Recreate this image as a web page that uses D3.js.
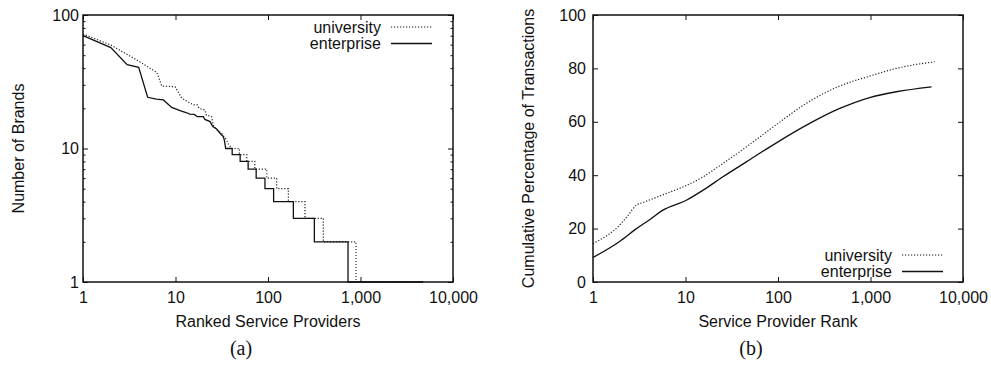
<!DOCTYPE html>
<html lang="en">
<head>
<meta charset="UTF-8">
<title>Service providers</title>
<script src="https://d3js.org/d3.v7.min.js"></script>
<style>
    body { margin: 0; background: #fff; }
    svg text { font-family: "Liberation Sans", Arial, sans-serif; fill: #111; }
    .axis path { display: none; }
    .axis line { stroke: #111; stroke-width: 1; }
    .axis text { font-size: 16px; }
</style>
</head>
<body>
<script>
// (a) ranked service providers vs number of brands
var uniRank   = [1, 2, 4.1, 6.3, 7.1, 9.9, 11.7, 15.6, 17.2, 18, 20.8, 21.5, 24.6, 25.6, 27.9, 31.6, 35.6, 37, 40.4, 49, 49, 59, 59, 72, 72, 97, 97, 124, 124, 166, 166, 251, 251, 396, 396, 894, 894, 4740];
var uniBrands = [72, 59.6, 44.7, 37, 29.4, 29, 23.8, 21.2, 21.2, 20, 19.4, 17.8, 17.3, 15, 13.8, 13, 11.6, 10.9, 10, 10, 9, 9, 8, 8, 7, 7, 6, 6, 5, 5, 4, 4, 3, 3, 2, 2, 1, 1];
var entRank   = [1, 2, 3, 4, 5, 6.2, 7.4, 9.1, 11.2, 13, 14.3, 16, 17.2, 20, 20.8, 23.6, 25.3, 27.9, 30.3, 32.8, 33.7, 34.9, 41, 41, 50, 50, 61, 61, 74.5, 74.5, 92.7, 92.7, 115, 115, 188, 188, 317, 317, 733, 733, 4740];
var entBrands = [70, 57, 42.5, 40.5, 24.2, 23.4, 23.1, 20.3, 19.2, 18.6, 18.1, 18, 17.3, 17.3, 16.5, 15.9, 14.6, 14, 13, 12.3, 11.6, 10, 10, 9, 9, 8, 8, 7, 7, 6, 6, 5, 5, 4, 4, 3, 3, 2, 2, 1, 1];

// (b) service provider rank vs cumulative percentage of transactions
var uniCumRank = [1, 2, 2.4, 2.9, 3.5, 5, 7.3, 10, 15.5, 25.4, 45.5, 100, 202, 465, 980, 1900, 4940];
var uniCumPct  = [14.4, 21.8, 25, 28.6, 29.8, 31.9, 34.1, 36, 39.4, 44.4, 50.6, 59.4, 66.9, 73.4, 77.1, 80, 82.5];
var entCumRank = [1, 1.94, 2.9, 4.2, 5.7, 10.2, 15.5, 25.4, 45.5, 100, 220, 465, 980, 1900, 4570];
var entCumPct  = [9.2, 15.2, 19.8, 23.6, 26.9, 30.6, 34.4, 39.4, 45, 52.5, 59.4, 65, 69.1, 71.25, 73.1];

var xTicks = [1, 10, 100, 1000, 10000];
var logYTicks = [1, 10, 100];
var logYMinor = [2, 3, 4, 5, 6, 7, 8, 9, 20, 30, 40, 50, 60, 70, 80, 90];
var linYTicks = [0, 20, 40, 60, 80, 100];
var seriesNames = ["university", "enterprise"];

var svg = d3.select("body").append("svg")
    .attr("width", 991)
    .attr("height", 365);

function zip(xs, ys) {
    return xs.map(function (d, i) { return [d, ys[i]]; });
}

function drawPanel(opt) {
    var x = d3.scaleLog().domain([1, 10000]).range([opt.left, opt.right]);
    var y = opt.y;
    var fmt = d3.format(",");

    // bottom + top x ticks (inward)
    svg.append("g").attr("class", "axis")
        .attr("transform", "translate(0," + opt.bottom + ")")
        .call(d3.axisBottom(x).tickValues(xTicks).tickFormat(fmt).tickSize(-5).tickPadding(10));
    svg.append("g").attr("class", "axis")
        .attr("transform", "translate(0," + opt.top + ")")
        .call(d3.axisTop(x).tickValues(xTicks).tickFormat("").tickSize(-5));

    // left + right y ticks
    svg.append("g").attr("class", "axis")
        .attr("transform", "translate(" + opt.left + ",0)")
        .call(d3.axisLeft(y).tickValues(opt.yTicks).tickFormat(opt.yFmt).tickSize(-5).tickPadding(opt.yPad));
    svg.append("g").attr("class", "axis")
        .attr("transform", "translate(" + opt.right + ",0)")
        .call(d3.axisRight(y).tickValues(opt.yTicks).tickFormat("").tickSize(-5));
    if (opt.yMinor) {
        svg.append("g").attr("class", "axis")
            .attr("transform", "translate(" + opt.left + ",0)")
            .call(d3.axisLeft(y).tickValues(opt.yMinor).tickFormat("").tickSize(-2.5));
        svg.append("g").attr("class", "axis")
            .attr("transform", "translate(" + opt.right + ",0)")
            .call(d3.axisRight(y).tickValues(opt.yMinor).tickFormat("").tickSize(-2.5));
    }

    var line = d3.line()
        .curve(opt.curve)
        .x(function (d) { return x(d[0]); })
        .y(function (d) { return y(d[1]); });

    svg.append("path")
        .datum(opt.uni)
        .attr("d", line)
        .attr("fill", "none")
        .attr("stroke", "#222")
        .attr("stroke-width", 1.2)
        .attr("stroke-dasharray", "1.2,1.8");
    svg.append("path")
        .datum(opt.ent)
        .attr("d", line)
        .attr("fill", "none")
        .attr("stroke", "#111")
        .attr("stroke-width", 1.3);

    // frame
    svg.append("rect")
        .attr("x", opt.left).attr("y", opt.top)
        .attr("width", opt.right - opt.left)
        .attr("height", opt.bottom - opt.top)
        .attr("fill", "none")
        .attr("stroke", "#111")
        .attr("stroke-width", 1.5);

    // legend
    seriesNames.forEach(function (name, i) {
        var ly = opt.legendY + i * 16.5;
        svg.append("text")
            .attr("x", opt.legendX)
            .attr("y", ly)
            .attr("dy", "0.35em")
            .attr("text-anchor", "end")
            .style("font-size", "16px")
            .text(name);
        svg.append("line")
            .attr("x1", opt.legendX + 10).attr("x2", opt.legendX + 51)
            .attr("y1", ly).attr("y2", ly)
            .attr("stroke", "#111")
            .attr("stroke-width", i == 0 ? 1.2 : 1.3)
            .attr("stroke-dasharray", i == 0 ? "1.2,1.8" : null);
    });

    // axis titles
    svg.append("text")
        .attr("x", (opt.left + opt.right) / 2)
        .attr("y", 327)
        .attr("text-anchor", "middle")
        .style("font-size", "16px")
        .text(opt.xTitle);
    svg.append("text")
        .attr("transform", "translate(" + opt.yTitleX + "," + ((opt.top + opt.bottom) / 2) + ") rotate(-90)")
        .attr("text-anchor", "middle")
        .attr("dy", "0.35em")
        .style("font-size", "16px")
        .text(opt.yTitle);
    svg.append("text")
        .attr("x", opt.capX)
        .attr("y", 355)
        .attr("text-anchor", "middle")
        .style("font-family", "'Liberation Serif', 'DejaVu Serif', serif")
        .style("font-size", "20px")
        .text(opt.caption);
}

drawPanel({
    left: 83, right: 453, top: 15, bottom: 282,
    y: d3.scaleLog().domain([1, 100]).range([282, 15]),
    yTicks: logYTicks, yMinor: logYMinor, yFmt: d3.format(","), yPad: 4,
    uni: zip(uniRank, uniBrands), ent: zip(entRank, entBrands),
    curve: d3.curveLinear,
    legendX: 381, legendY: 27,
    xTitle: "Ranked Service Providers", yTitle: "Number of Brands", yTitleX: 18,
    caption: "(a)", capX: 241
});

drawPanel({
    left: 593, right: 963, top: 15, bottom: 282,
    y: d3.scaleLinear().domain([0, 100]).range([282, 15]),
    yTicks: linYTicks, yMinor: null, yFmt: d3.format("d"), yPad: 7,
    uni: zip(uniCumRank, uniCumPct), ent: zip(entCumRank, entCumPct),
    curve: d3.curveMonotoneX,
    legendX: 892, legendY: 255,
    xTitle: "Service Provider Rank", yTitle: "Cumulative Percentage of Transactions", yTitleX: 528,
    caption: "(b)", capX: 751
});
</script>
</body>
</html>
